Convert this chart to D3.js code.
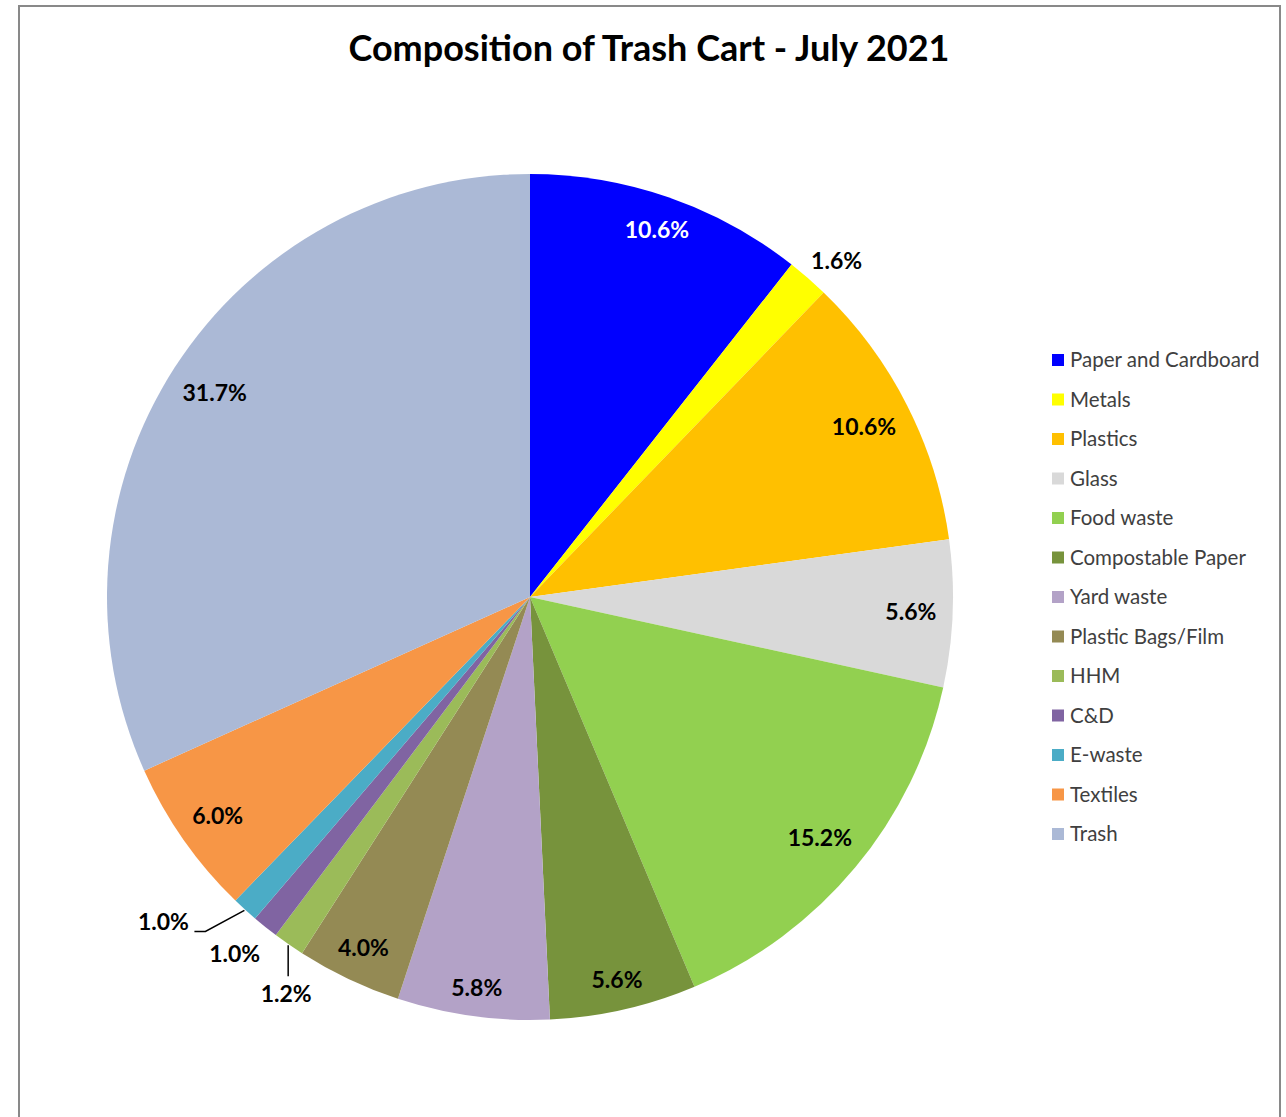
<!DOCTYPE html>
<html>
<head>
<meta charset="utf-8">
<script src="https://cdn.jsdelivr.net/npm/d3@7"></script>
<style>
  body { margin: 0; background: #fff; }
  svg { display: block; font-family: Lato, "Open Sans", sans-serif; }
</style>
</head>
<body>
<div id="chart"></div>
<script>
// data
var categories = ["Paper and Cardboard", "Metals", "Plastics", "Glass", "Food waste",
  "Compostable Paper", "Yard waste", "Plastic Bags/Film", "HHM", "C&D", "E-waste",
  "Textiles", "Trash"];
var shares = [10.6, 1.6, 10.6, 5.6, 15.2, 5.6, 5.8, 4.0, 1.2, 1.0, 1.0, 6.0, 31.7];
var sliceColors = ["#0000FF", "#FFFF00", "#FFC000", "#D9D9D9", "#92D050", "#77933C",
  "#B3A2C7", "#948A54", "#9BBB59", "#8064A2", "#4BACC6", "#F79646", "#ABB9D6"];

var w = 1286, h = 1117;
var cx = 530, cy = 597, R = 423;

var mysvg = d3.select("#chart").append("svg").attr("width", w).attr("height", h);

// frame (bottom edge runs off the picture)
mysvg.append("path")
  .attr("d", "M19,1117 L19,6 L1280,6 L1280,1117")
  .attr("fill", "none")
  .attr("stroke", "#898989")
  .attr("stroke-width", 2);

mysvg.append("text")
  .attr("x", 649).attr("y", 61)
  .attr("text-anchor", "middle")
  .attr("font-size", 36).attr("font-weight", "bold")
  .attr("fill", "#000")
  .text("Composition of Trash Cart - July 2021");

var color = d3.scaleOrdinal().domain(categories).range(sliceColors);

var pie = d3.pie().sort(null).value(function(d, i){ return shares[i]; });
var arcs = pie(categories);
var arc = d3.arc().innerRadius(0).outerRadius(R);

var g = mysvg.append("g").attr("transform", "translate(" + cx + "," + cy + ")");
g.selectAll("path.slice").data(arcs).enter().append("path")
  .attr("class", "slice")
  .attr("d", arc)
  .attr("fill", function(d){ return color(d.data); });

function pt(a, r){ return [Math.sin(a) * r, -Math.cos(a) * r]; }
function mid(d){ return (d.startAngle + d.endAngle) / 2; }

// small slices get their label outside, placed from the point on the rim
var outside = {"Metals": [28, -16], "HHM": [-2, 49], "C&D": [-30, 26], "E-waste": [-81, 12]};

arcs.forEach(function(d){
  var t = g.append("text")
    .attr("dy", "0.35em")
    .attr("text-anchor", "middle")
    .attr("font-size", 23).attr("font-weight", "bold")
    .attr("fill", d.data === "Paper and Cardboard" ? "#fff" : "#000")
    .text(d3.format(".1f")(shares[d.index]) + "%");
  var a = mid(d), p;
  if (outside[d.data]) {
    p = pt(a, R + 1);
    p[0] += outside[d.data][0]; p[1] += outside[d.data][1];
  } else {
    // push label out until its far corner sits just inside the rim
    var u = pt(a, 1);
    var bw = t.node().getBBox().width, bh = 16;
    var dx = (u[0] < 0 ? -1 : 1) * bw / 2, dy = (u[1] < 0 ? -1 : 1) * bh / 2;
    var ud = u[0] * dx + u[1] * dy, T = R - 16;
    var r = -ud + Math.sqrt(ud * ud - (dx * dx + dy * dy) + T * T);
    p = pt(a, r);
  }
  t.attr("x", p[0]).attr("y", p[1]);
});

// leader lines
var hh = pt(mid(arcs[categories.indexOf("HHM")]), R + 1);
g.append("path")
  .attr("d", "M" + hh[0] + "," + hh[1] + " L" + hh[0] + "," + (hh[1] + 31))
  .attr("stroke", "#000").attr("stroke-width", 1.5).attr("fill", "none");

var ee = pt(mid(arcs[categories.indexOf("E-waste")]), R + 1);
g.append("path")
  .attr("d", "M" + ee[0] + "," + ee[1] + " L" + (ee[0] - 39) + "," + (ee[1] + 21) +
        " L" + (ee[0] - 50) + "," + (ee[1] + 21))
  .attr("stroke", "#000").attr("stroke-width", 1.5).attr("fill", "none");

// legend
var legend = mysvg.append("g").attr("transform", "translate(1052,360)");
var ly = d3.scalePoint().domain(categories).range([0, 474]);
var item = legend.selectAll("g").data(categories).enter().append("g")
  .attr("transform", function(d){ return "translate(0," + ly(d) + ")"; });
item.append("rect")
  .attr("x", 0).attr("y", -6).attr("width", 12).attr("height", 12)
  .attr("fill", function(d){ return color(d); });
item.append("text")
  .attr("x", 18).attr("y", 0).attr("dy", "0.35em")
  .attr("font-size", 20.5).attr("fill", "#404040")
  .text(function(d){ return d; });
</script>
</body>
</html>
